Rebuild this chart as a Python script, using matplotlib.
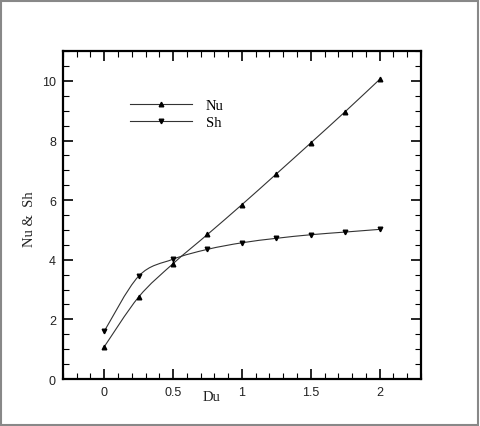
import numpy as np
import matplotlib.pyplot as plt
from matplotlib.path import Path
from matplotlib.patches import PathPatch, Rectangle
from matplotlib.ticker import MultipleLocator
from matplotlib.lines import Line2D

du = [0, 0.25, 0.5, 0.75, 1.0, 1.25, 1.5, 1.75, 2.0]
nu = [1.08, 2.75, 3.87, 4.85, 5.85, 6.88, 7.92, 8.97, 10.05]
sh = [1.60, 3.45, 4.02, 4.35, 4.57, 4.72, 4.84, 4.93, 5.02]


def smooth_path(x, y):
    # Catmull-Rom curve through the points, as cubic bezier segments
    p = np.column_stack([x, y])
    pts = np.vstack([p[0], p, p[-1]])
    verts = [p[0]]
    codes = [Path.MOVETO]
    for i in range(1, len(pts) - 2):
        c1 = pts[i] + (pts[i + 1] - pts[i - 1]) / 6
        c2 = pts[i + 1] - (pts[i + 2] - pts[i]) / 6
        verts += [c1, c2, pts[i + 1]]
        codes += [Path.CURVE4] * 3
    return Path(verts, codes)


fig = plt.figure(figsize=(4.8, 4.27), dpi=100)
ax = fig.add_axes([0.131, 0.110, 0.746, 0.768])

line_kw = dict(fill=False, edgecolor='#333333', linewidth=0.8)
ax.add_patch(PathPatch(smooth_path(du, nu), **line_kw))
ax.add_patch(PathPatch(smooth_path(du, sh), **line_kw))
ax.plot(du, nu, linestyle='none', marker='^', color='black', markersize=3.3)
ax.plot(du, sh, linestyle='none', marker='v', color='black', markersize=3.3)

ax.set_xlim(-0.3, 2.3)
ax.set_ylim(0, 11)
ax.xaxis.set_major_locator(MultipleLocator(0.5))
ax.xaxis.set_minor_locator(MultipleLocator(0.1))
ax.yaxis.set_major_locator(MultipleLocator(2))
ax.yaxis.set_minor_locator(MultipleLocator(0.5))
ax.set_xticks([0, 0.5, 1, 1.5, 2])
ax.set_xticklabels(['0', '0.5', '1', '1.5', '2'])
ax.set_yticks([0, 2, 4, 6, 8, 10])
ax.set_yticklabels(['0', '2', '4', '6', '8', '10'])
ax.tick_params(which='both', direction='in', top=True, right=True,
               labelsize=9, pad=5, color='black', labelcolor='#222222')
ax.tick_params(which='major', length=7, width=1.2)
ax.tick_params(which='minor', length=4, width=0.8)
for lbl in ax.get_xticklabels() + ax.get_yticklabels():
    lbl.set_family('Liberation Sans')
for s in ax.spines.values():
    s.set_linewidth(1.6)

ax.set_xlabel('Du', family='Liberation Serif', fontsize=10.5, color='#222222')
ax.xaxis.set_label_coords(0.416, -0.032)
ax.set_ylabel('Nu &  Sh', family='Liberation Serif', fontsize=10.5, color='#222222')
ax.yaxis.set_label_coords(-0.075, 0.49)

handles = [
    Line2D([], [], color='#333333', linewidth=0.8, marker='^', markersize=3.3,
           markerfacecolor='black', markeredgecolor='black'),
    Line2D([], [], color='#333333', linewidth=0.8, marker='v', markersize=3.3,
           markerfacecolor='black', markeredgecolor='black'),
]
ax.legend(handles, ['Nu', 'Sh'], loc='upper left', bbox_to_anchor=(0.15, 0.895),
          frameon=False, handlelength=4.3, handletextpad=0.9, labelspacing=0.25,
          prop={'family': 'Liberation Serif', 'size': 10.5}, markerscale=1.0)

fig.patches.append(Rectangle((0.002, 0.003), 0.994, 0.993, transform=fig.transFigure,
                             fill=False, edgecolor='#888888', linewidth=1.5))

fig.savefig('out.png', dpi=100)
